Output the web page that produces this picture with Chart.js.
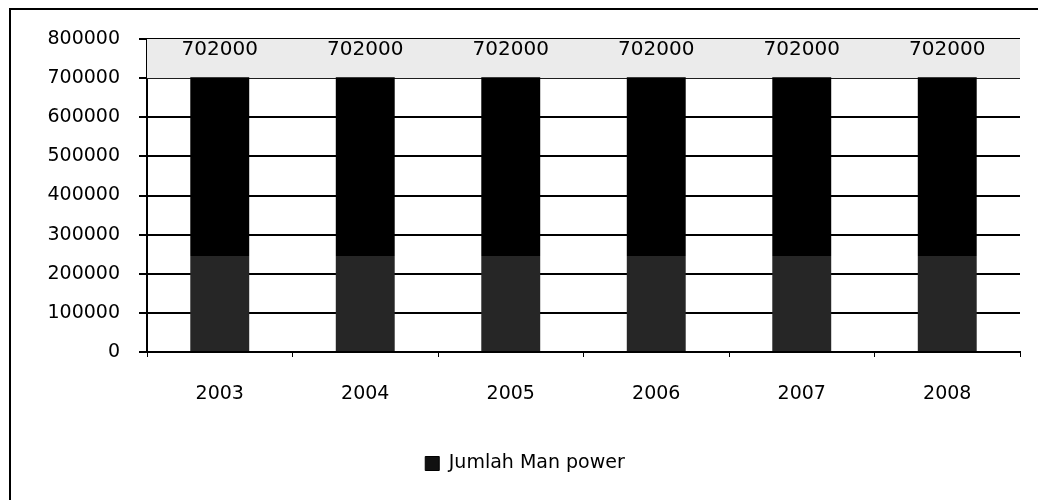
<!DOCTYPE html>
<html>
<head>
<meta charset="utf-8">
<script src="https://cdn.jsdelivr.net/npm/chart.js@4"></script>
<style>
  html, body { margin: 0; padding: 0; background: #fff; }
  #wrap { position: relative; width: 1038px; height: 500px; }
  #frame { position: absolute; left: 9px; top: 8px; width: 1040px; height: 500px;
           border-left: 2px solid #000; border-top: 2px solid #000; pointer-events: none; }
</style>
</head>
<body>
<div id="wrap">
  <canvas id="bar"></canvas>
  <div id="frame"></div>
</div>
<script>
const years = ['2003', '2004', '2005', '2006', '2007', '2008'];
const manpower = [702000, 702000, 702000, 702000, 702000, 702000];
const seriesName = 'Jumlah Man power';
const yMax = 800000;
const yStep = 100000;

const FONT = 'DejaVu Sans';

// value labels above each bar
const barLabels = {
    id: 'barLabels',
    afterDatasetsDraw(chart) {
        const c = chart.ctx;
        const meta = chart.getDatasetMeta(0);
        c.save();
        c.font = '20px "' + FONT + '"';
        c.fillStyle = '#000';
        c.textAlign = 'center';
        c.textBaseline = 'middle';
        meta.data.forEach((bar, i) => {
            const y = chart.scales.y.getPixelForValue(manpower[i]);
            c.fillText(String(manpower[i]), bar.x, y - 28);
        });
        c.restore();
    }
};

// light band at the top of the plot
const topBand = {
    id: 'topBand',
    beforeDatasetsDraw(chart) {
        const {ctx: c, chartArea: a, scales} = chart;
        const y1 = scales.y.getPixelForValue(yMax);
        const y2 = scales.y.getPixelForValue(yMax - yStep);
        c.save();
        c.fillStyle = '#ebebeb';
        c.fillRect(a.left, y1, a.right - a.left, y2 - y1);
        c.restore();
    }
};

function barFill(context) {
    const chart = context.chart;
    const a = chart.chartArea;
    if (!a) return '#000';
    const y = chart.scales.y;
    const g = chart.ctx.createLinearGradient(0, y.getPixelForValue(0), 0, y.getPixelForValue(yMax));
    const cut = 245000 / yMax;
    g.addColorStop(0, '#262626');
    g.addColorStop(cut, '#262626');
    g.addColorStop(cut, '#000');
    g.addColorStop(1, '#000');
    return g;
}

const ctx = document.getElementById('bar').getContext('2d');
ctx.canvas.width = 1038;
ctx.canvas.height = 500;
new Chart(ctx, {
    type: 'bar',
    data: {
        labels: years,
        datasets: [{
            label: seriesName,
            data: manpower,
            backgroundColor: barFill,
            borderWidth: 0,
            barPercentage: 0.405,
            categoryPercentage: 1
        }]
    },
    options: {
        responsive: false,
        animation: false,
        layout: { padding: { left: 30, right: 18, top: 39, bottom: 17 } },
        plugins: {
            legend: {
                position: 'bottom',
                labels: {
                    font: { family: FONT, size: 19 },
                    color: '#000',
                    boxWidth: 14,
                    boxHeight: 14,
                    padding: 10,
                    generateLabels: () => [{
                        text: seriesName,
                        fillStyle: '#111',
                        strokeStyle: '#000',
                        lineWidth: 1
                    }]
                }
            },
            tooltip: { enabled: false }
        },
        scales: {
            x: {
                grid: { drawOnChartArea: false, drawTicks: true, tickLength: 5, color: '#000', offset: true },
                border: { color: '#000', width: 2 },
                ticks: { font: { family: FONT, size: 19 }, color: '#000', padding: 26 },
                afterFit: s => { s.height = 92; }
            },
            y: {
                min: 0,
                max: yMax,
                grid: { color: '#000', lineWidth: 2, tickLength: 8 },
                border: { color: '#000', width: 2 },
                ticks: {
                    stepSize: yStep,
                    font: { family: FONT, size: 19 },
                    color: '#000',
                    padding: 19,
                    callback: v => String(v)
                },
                afterFit: s => { s.width = 117; }
            }
        }
    },
    plugins: [topBand, barLabels]
});
</script>
</body>
</html>
